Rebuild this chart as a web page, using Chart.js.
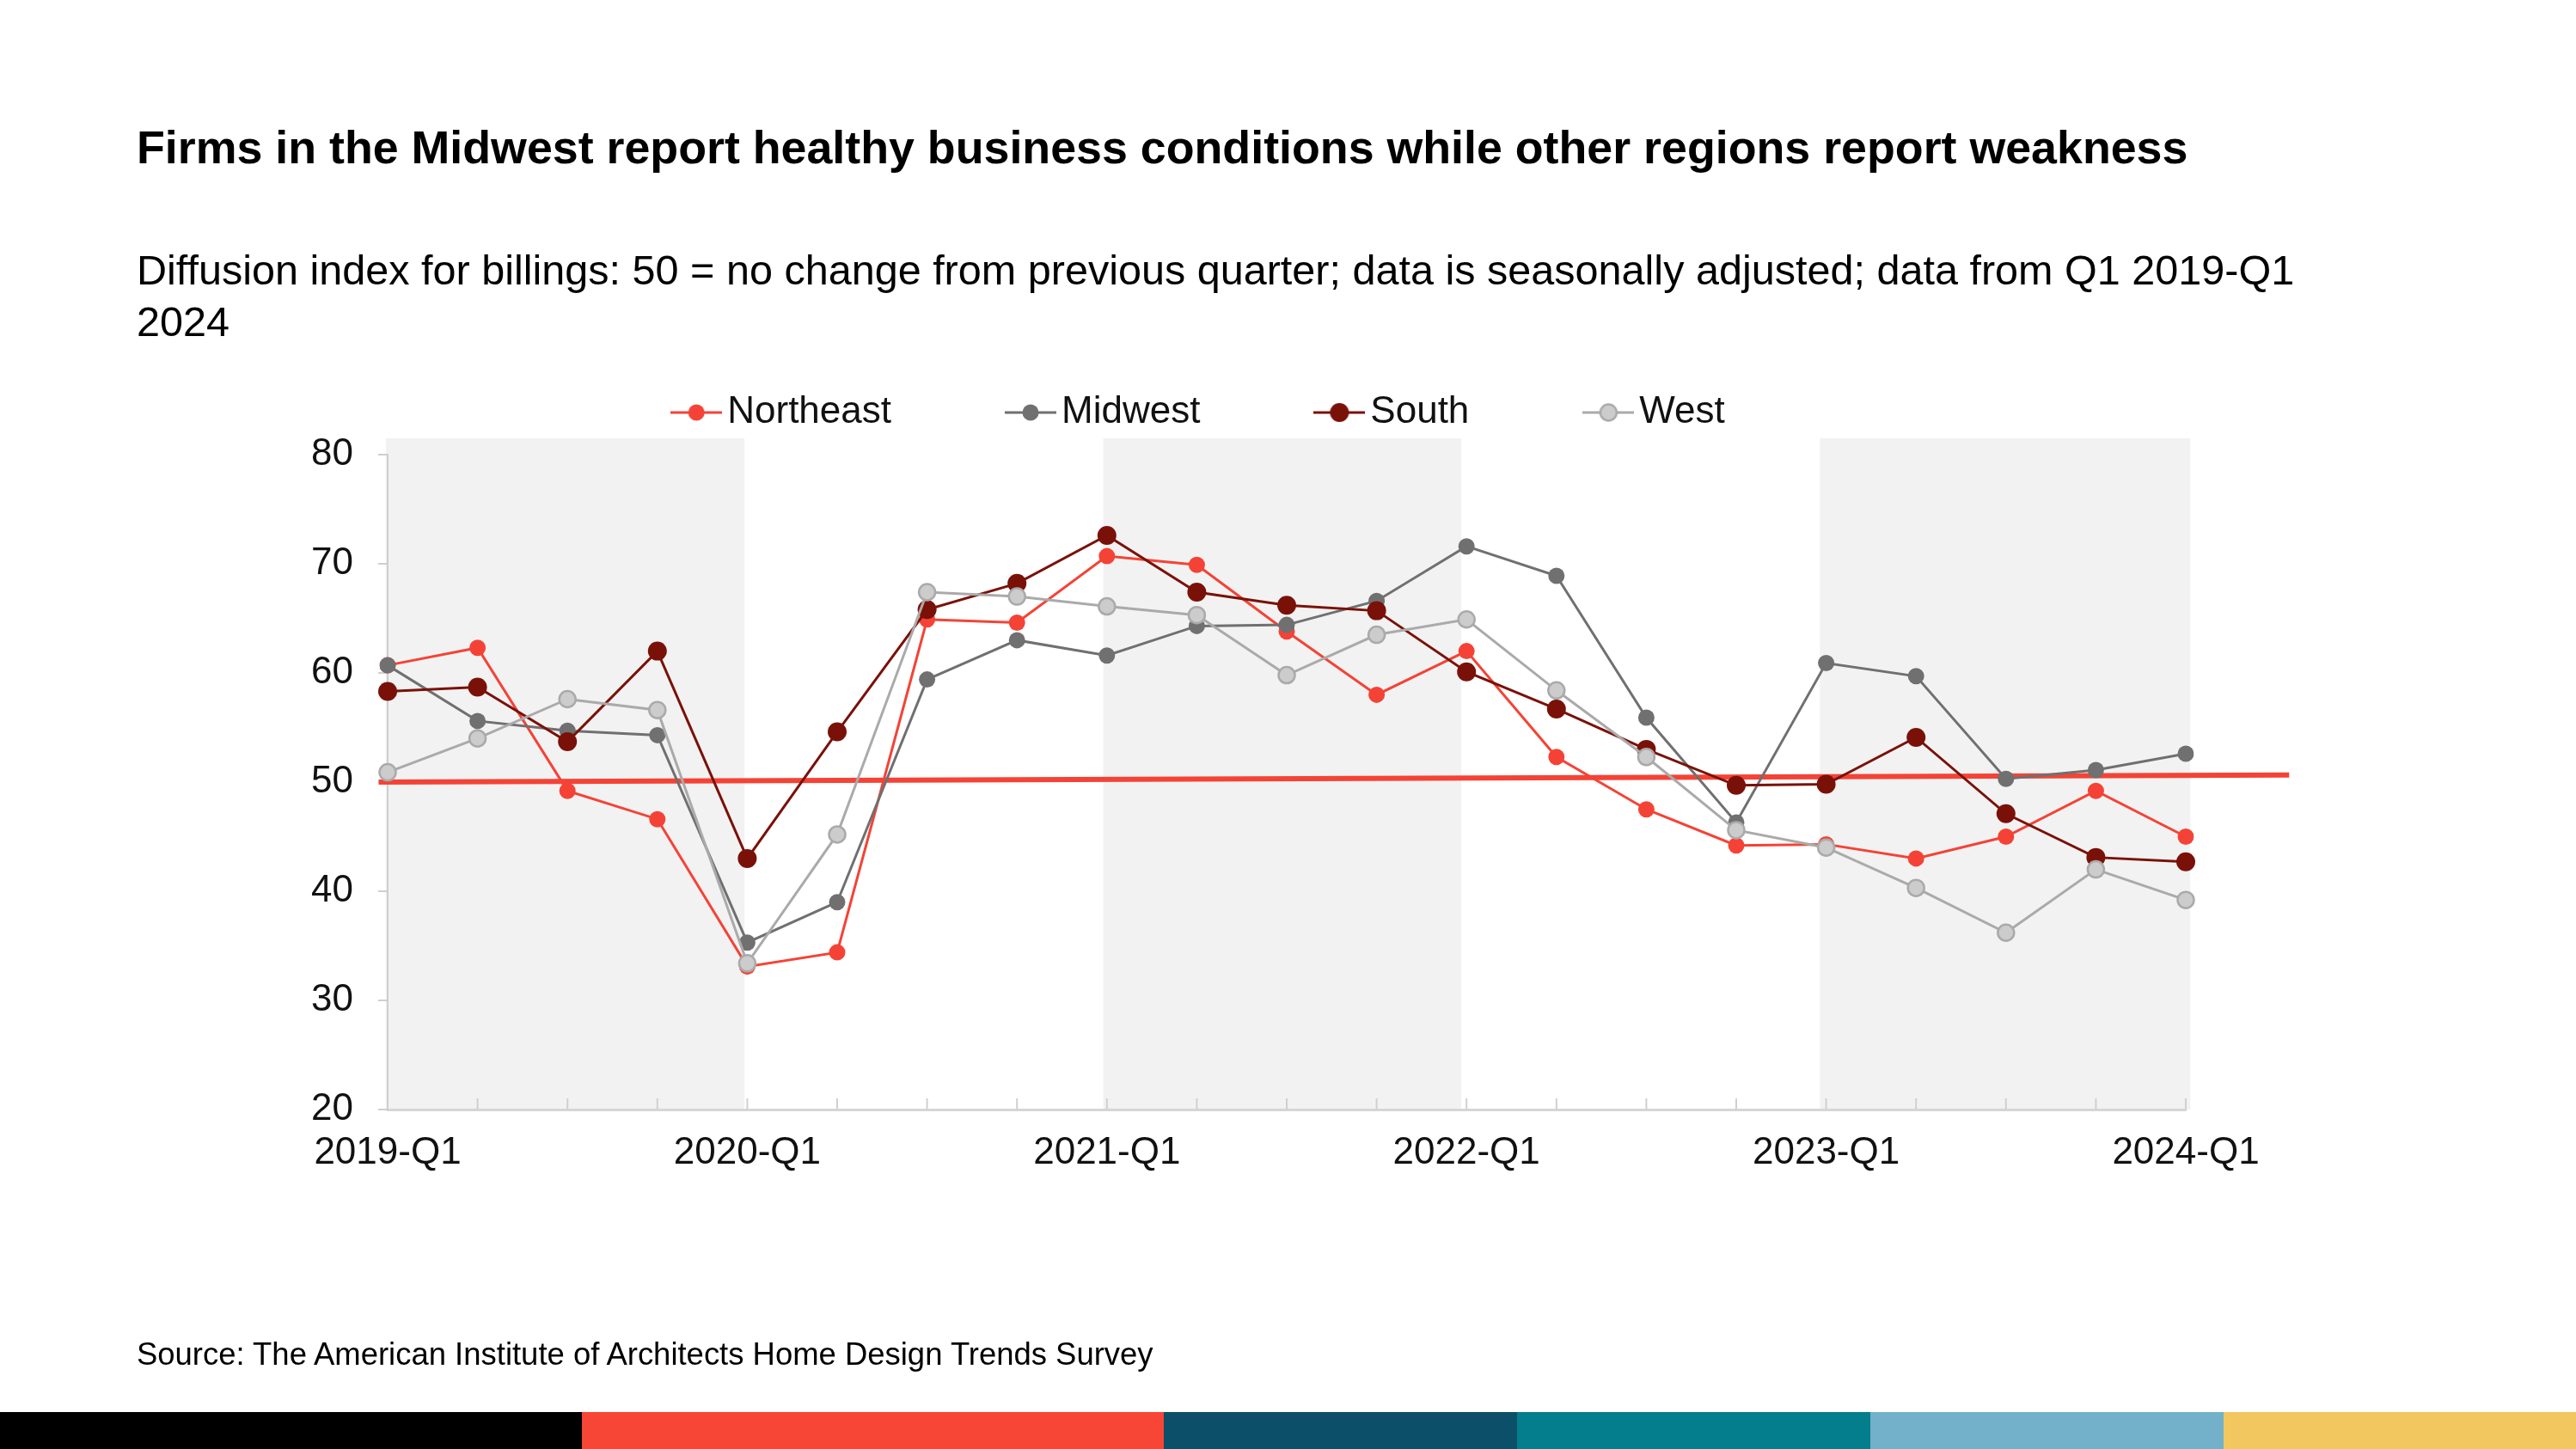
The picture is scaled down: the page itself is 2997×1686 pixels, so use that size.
<!DOCTYPE html>
<html><head><meta charset="utf-8">
<script src="https://cdn.jsdelivr.net/npm/chart.js@4.4.1/dist/chart.umd.min.js"></script>
<style>
html,body{margin:0;padding:0;background:#fff;}
body{width:2997px;height:1686px;position:relative;overflow:hidden;font-family:"Liberation Sans",Arial,sans-serif;color:#000;}
#c{position:absolute;left:0;top:0;}
.txt{position:absolute;left:159px;white-space:nowrap;color:#000;}
#title{font-weight:bold;}
.bar{position:absolute;top:1643px;height:43px;}
</style></head><body>
<canvas id="c" width="2997" height="1686"></canvas>
<div class="txt" id="title"><span id="titleL">Firms in the Midwest report healthy business conditions while other regions report weakness</span></div>
<div class="txt" id="subtitle"><span id="subL1">Diffusion index for billings: 50 = no change from previous quarter; data is seasonally adjusted; data from Q1 2019-Q1</span><br>2024</div>
<div class="txt" id="source"><span id="srcL">Source: The American Institute of Architects Home Design Trends Survey</span></div>
<div class="bar" style="left:0;width:677px;background:#000000"></div>
<div class="bar" style="left:677px;width:677px;background:#f74536"></div>
<div class="bar" style="left:1354px;width:411px;background:#0b4f69"></div>
<div class="bar" style="left:1765px;width:411px;background:#047e8c"></div>
<div class="bar" style="left:2176px;width:411px;background:#72b1c9"></div>
<div class="bar" style="left:2587px;width:410px;background:#f3c760"></div>
<script>
// ---- data ----
const quarterLabels = ['2019-Q1','2019-Q2','2019-Q3','2019-Q4','2020-Q1','2020-Q2','2020-Q3','2020-Q4','2021-Q1','2021-Q2','2021-Q3','2021-Q4','2022-Q1','2022-Q2','2022-Q3','2022-Q4','2023-Q1','2023-Q2','2023-Q3','2023-Q4','2024-Q1'];
const northeast = [60.7, 62.3, 49.2, 46.6, 33.1, 34.4, 64.9, 64.6, 70.7, 69.9, 63.8, 58.0, 62.0, 52.3, 47.5, 44.2, 44.3, 43.0, 45.0, 49.2, 45.0];
const midwest   = [60.7, 55.6, 54.7, 54.3, 35.3, 39.0, 59.4, 63.0, 61.6, 64.3, 64.4, 66.6, 71.6, 68.9, 55.9, 46.3, 60.9, 59.7, 50.3, 51.1, 52.6];
const south     = [58.3, 58.7, 53.7, 62.0, 43.0, 54.6, 65.8, 68.2, 72.6, 67.4, 66.2, 65.7, 60.1, 56.7, 53.0, 49.7, 49.8, 54.1, 47.1, 43.1, 42.7];
const west      = [50.9, 54.0, 57.6, 56.6, 33.4, 45.2, 67.4, 67.0, 66.1, 65.3, 59.8, 63.5, 64.9, 58.4, 52.3, 45.6, 44.0, 40.3, 36.2, 42.0, 39.2];
const seriesNames = ['Northeast','Midwest','South','West'];
const refLineX = [-0.1, 21.15];
const refLineY = [50.0, 50.65];
const yTicks = [20, 30, 40, 50, 60, 70, 80];
const shadedBands = [[-0.02, 3.97], [7.96, 11.94], [15.93, 20.05]];
const bandTop = 81.5;

// ---- text fitting ----
function fitText(id, spanId, targetW, capCenter, lh){
  const el = document.getElementById(id);
  const sp = document.getElementById(spanId);
  el.style.fontSize = '100px';
  const w = sp.getBoundingClientRect().width;
  el.style.fontSize = (100 * targetW / w) + 'px';
  el.style.lineHeight = lh + 'px';
  el.style.top = (capCenter - lh / 2) + 'px';
}
fitText('title', 'titleL', 2387, 171, 70);
fitText('subtitle', 'subL1', 2511, 314, 60);
fitText('source', 'srcL', 1183, 1576, 44);

// ---- chart ----
const FONT = "'Liberation Sans', Arial, sans-serif";
Chart.defaults.font.family = FONT;

const styles = [
  {line:'#f44336', fill:'#f44336', border:'#f44336', r:9.5, bw:0, order:4},
  {line:'#707070', fill:'#707070', border:'#707070', r:9.5, bw:0, order:3},
  {line:'#7a1109', fill:'#7a1109', border:'#7a1109', r:11, bw:0, order:2},
  {line:'#aaaaaa', fill:'#cccccc', border:'#aaaaaa', r:9.5, bw:2.5, order:1}
];
const seriesData = [northeast, midwest, south, west];

const legendMarkers = styles.map(s => {
  const cv = document.createElement('canvas');
  cv.width = 60; cv.height = 26;
  const g = cv.getContext('2d');
  g.strokeStyle = s.line; g.lineWidth = 3;
  g.beginPath(); g.moveTo(0, 13); g.lineTo(60, 13); g.stroke();
  g.beginPath(); g.arc(30, 13, s.r, 0, Math.PI * 2);
  g.fillStyle = s.fill; g.fill();
  if (s.bw) { g.lineWidth = s.bw; g.strokeStyle = s.border; g.stroke(); }
  return cv;
});

const datasets = seriesNames.map((name, i) => ({
  label: name,
  data: seriesData[i],
  borderColor: styles[i].line,
  backgroundColor: styles[i].fill,
  pointBackgroundColor: styles[i].fill,
  pointBorderColor: styles[i].border,
  pointBorderWidth: styles[i].bw,
  pointRadius: styles[i].r,
  borderWidth: 3,
  tension: 0,
  order: styles[i].order
}));
datasets.push({
  label: 'ref',
  data: refLineX.map((x, i) => ({x: x, y: refLineY[i]})),
  xAxisID: 'x2',
  borderColor: '#f44336',
  borderWidth: 6,
  pointRadius: 0,
  clip: false,
  order: 5
});

const bandsPlugin = {
  id: 'bands',
  beforeDraw(chart){
    const {ctx} = chart; const xs = chart.scales.x2, ys = chart.scales.y;
    ctx.save(); ctx.fillStyle = '#f2f2f2';
    shadedBands.forEach(([a, b]) => {
      const x1 = xs.getPixelForValue(a), x2 = xs.getPixelForValue(b);
      const y1 = ys.getPixelForValue(bandTop), y2 = ys.getPixelForValue(20);
      ctx.fillRect(x1, y1, x2 - x1, y2 - y1);
    });
    ctx.restore();
  }
};
const innerTicks = {
  id: 'innerTicks',
  beforeDatasetsDraw(chart){
    const {ctx} = chart; const xs = chart.scales.x; const yb = chart.chartArea.bottom;
    ctx.save(); ctx.strokeStyle = '#d0d0d0'; ctx.lineWidth = 2;
    for (let i = 0; i < quarterLabels.length; i++) {
      const px = xs.getPixelForTick(i);
      ctx.beginPath(); ctx.moveTo(px, yb); ctx.lineTo(px, yb - 13); ctx.stroke();
    }
    ctx.restore();
  }
};
const legendGap = {
  id: 'legendGap',
  beforeLayout(chart){
    const lg = chart.legend;
    if (lg && !lg._patched) {
      const orig = lg.fit;
      lg.fit = function(){ orig.call(this); this.height += 17; };
      lg._patched = true;
    }
  }
};

const Y_AXIS_W = 191;
const chart = new Chart(document.getElementById('c'), {
  type: 'line',
  data: { labels: quarterLabels, datasets: datasets },
  options: {
    responsive: false,
    animation: false,
    events: [],
    layout: { padding: { left: 260, right: 454, top: 304, bottom: 322 } },
    plugins: {
      tooltip: { enabled: false },
      legend: {
        position: 'top', align: 'center',
        labels: {
          usePointStyle: true, pointStyleWidth: 28, padding: 148,
          color: '#111', font: { family: FONT, size: 44 },
          generateLabels(ch){
            const items = Chart.defaults.plugins.legend.labels.generateLabels(ch);
            items.forEach(it => { if (it.datasetIndex < 4) it.pointStyle = legendMarkers[it.datasetIndex]; });
            return items;
          },
          filter: it => it.datasetIndex < 4,
          sort: (a, b) => a.datasetIndex - b.datasetIndex
        }
      }
    },
    scales: {
      x: {
        type: 'category',
        grid: { display: false, drawTicks: false },
        border: { display: true, color: '#d6d6d6', width: 3 },
        ticks: {
          autoSkip: false, maxRotation: 0, padding: 24, color: '#111',
          font: { family: FONT, size: 44 },
          callback: (v, i) => quarterLabels[i].endsWith('Q1') ? quarterLabels[i] : ''
        }
      },
      x2: { type: 'linear', display: false, min: 0, max: 20 },
      y: {
        min: 20, max: 80,
        afterBuildTicks: s => { s.ticks = yTicks.map(v => ({value: v})); },
        afterFit: s => { s.width = Y_AXIS_W; },
        grid: { display: true, drawOnChartArea: false, drawTicks: true, tickLength: 11, color: '#cfcfcf', lineWidth: 2 },
        border: { display: true, color: '#cfcfcf', width: 2 },
        ticks: { padding: 29, color: '#111', font: { family: FONT, size: 44 } }
      }
    }
  },
  plugins: [bandsPlugin, innerTicks, legendGap]
});

// align chart area to reference frame
const ca = chart.chartArea;
const p = chart.options.layout.padding;
p.top += 529 - ca.top;
p.bottom += ca.bottom - 1291;
p.right += ca.right - 2543;
chart.update();
</script>
</body></html>
